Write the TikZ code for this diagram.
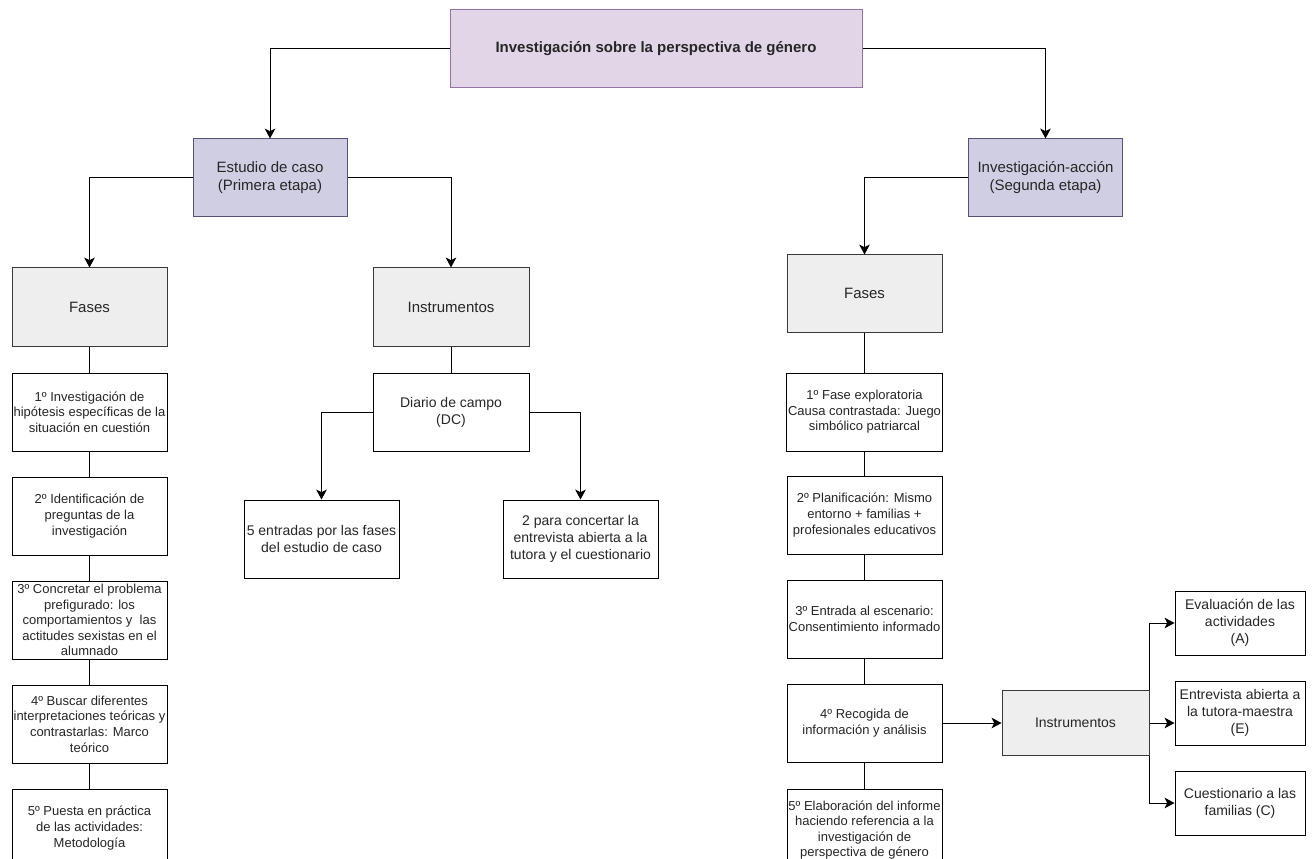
\documentclass[tikz,border=0pt]{standalone}
\usepackage{fontspec}
\setmainfont{Liberation Sans}
\definecolor{invLila}{HTML}{E1D5E7}
\definecolor{invLilaBorde}{HTML}{9673A6}
\definecolor{invMalva}{HTML}{D0CEE2}
\definecolor{invMalvaBorde}{HTML}{56517E}
\definecolor{invGris}{HTML}{EEEEEE}
\definecolor{invGrisBorde}{HTML}{36393D}
\usetikzlibrary{arrows.meta,positioning}

\begin{document}
\begin{tikzpicture}[x=0.75pt, y=-0.75pt,
  caja/.style={draw, line width=0.75pt, align=center, inner sep=1pt, text=black!85},
  raiz/.style={caja, draw=invLilaBorde, fill=invLila, minimum width=309pt,
               minimum height=58.5pt, font=\fontsize{11.25}{13.5}\selectfont\bfseries},
  etapa/.style={caja, draw=invMalvaBorde, fill=invMalva, minimum width=115.5pt,
                minimum height=58.5pt, font=\fontsize{11.25}{13.5}\selectfont},
  grupo/.style={caja, draw=invGrisBorde, fill=invGris, minimum width=116.25pt,
                minimum height=58.5pt, font=\fontsize{11.25}{13.5}\selectfont},
  paso/.style={caja, fill=white, minimum width=116.25pt, minimum height=58.5pt,
               font=\fontsize{9.75}{11.7}\selectfont},
  hoja/.style={caja, fill=white, minimum width=116.25pt, minimum height=58.5pt,
               font=\fontsize{10.5}{12.6}\selectfont},
  arr/.style={-{Stealth[length=7.5pt,width=8pt,inset=2pt]}, line width=0.75pt},
  lin/.style={line width=0.75pt}
]
  \useasboundingbox (0,0) rectangle (1313,859);

  \node[raiz]  (raiz)    at (656,49)    {Investigación sobre la perspectiva de género};
  \node[etapa] (estudio) at (270,178)   {Estudio de caso\\(Primera etapa)};
  \node[etapa] (accion)  at (1045.5,178) {Investigación-acción\\(Segunda etapa)};

  % estudio de caso
  \node[grupo] (fasesE) at (89.5,307) {Fases};
  \node[grupo, minimum width=117pt] (instrE) at (451,307) {Instrumentos};
  \node[paso, below=19.5pt of fasesE] (e1) {1º Investigación de\\hipótesis específicas de la\\situación en cuestión};
  \node[paso, below=18.75pt of e1]    (e2) {2º Identificación de\\preguntas de la\\investigación};
  \node[paso, below=18.75pt of e2]    (e3) {3º Concretar el problema\\prefigurado: los\\comportamientos y~ las\\actitudes sexistas en el\\alumnado};
  \node[paso, below=18.75pt of e3]    (e4) {4º Buscar diferentes\\interpretaciones teóricas y\\contrastarlas: Marco\\teórico};
  \node[paso, below=18.75pt of e4]    (e5) {5º Puesta en práctica\\de las actividades:\\Metodología};

  \node[hoja, below=19.5pt of instrE, minimum width=117pt] (diario) {Diario de campo\\(DC)};
  \node[hoja] (entradas)  at (321.5,539) {5 entradas por las fases\\del estudio de caso};
  \node[hoja] (concertar) at (580.5,539) {2 para concertar la\\entrevista abierta a la\\tutora y el cuestionario};

  % investigacion-accion
  \node[grupo, minimum height=57.75pt] (fasesA) at (864.5,293.5) {Fases};
  \node[paso, below=30pt of fasesA] (a1) {1º Fase exploratoria\\Causa contrastada: Juego\\simbólico patriarcal};
  \node[paso, below=18pt of a1]     (a2) {2º Planificación: Mismo\\entorno + familias +\\profesionales educativos};
  \node[paso, below=18.75pt of a2]  (a3) {3º Entrada al escenario:\\Consentimiento informado};
  \node[paso, below=18.75pt of a3]  (a4) {4º Recogida de\\información y análisis};
  \node[paso, below=19.5pt of a4, minimum height=61.5pt] (a5) {5º Elaboración del informe\\haciendo referencia a la\\investigación de\\perspectiva de género};

  \node[grupo, right=44.25pt of a4, minimum width=110.25pt, minimum height=48.75pt,
        font=\fontsize{10.5}{12.6}\selectfont] (instrA) {Instrumentos};
  \node[hoja, minimum width=97.5pt, minimum height=48pt] (evaluacion)   at (1240,623) {Evaluación de las\\actividades\\(A)};
  \node[hoja, minimum width=97.5pt, minimum height=48pt] (entrevista)   at (1240,713) {Entrevista abierta a\\la tutora-maestra\\(E)};
  \node[hoja, minimum width=97.5pt, minimum height=48pt] (cuestionario) at (1240,803) {Cuestionario a las\\familias (C)};

  \draw[arr] (raiz.west) -| (estudio.north);
  \draw[arr] (raiz.east) -| (accion.north);
  \draw[arr] (estudio.west) -| (fasesE.north);
  \draw[arr] (estudio.east) -| (instrE.north);
  \draw[arr] (accion.west) -| (fasesA.north);

  \foreach \a/\b in {fasesE/e1, e1/e2, e2/e3, e3/e4, e4/e5, instrE/diario,
                     fasesA/a1, a1/a2, a2/a3, a3/a4, a4/a5}
    \draw[lin] (\a) -- (\b);

  \draw[arr] (diario.west) -| (entradas.north);
  \draw[arr] (diario.east) -| (concertar.north);

  \draw[arr] (a4) -- (instrA);
  \draw[arr] (instrA.north east) |- (evaluacion.west);
  \draw[arr] (instrA.east) -- (instrA.east -| entrevista.west);
  \draw[arr] (instrA.south east) |- (cuestionario.west);
\end{tikzpicture}
\end{document}
